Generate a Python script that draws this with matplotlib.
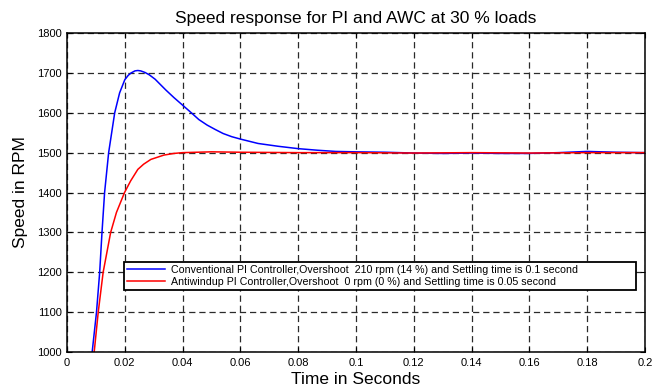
import matplotlib.pyplot as plt
import numpy as np

plt.rcParams['font.family'] = ['Liberation Sans', 'DejaVu Sans']
plt.rcParams['lines.scale_dashes'] = False

# Conventional PI controller (blue)
t_pi = [0.0087, 0.0102, 0.0113, 0.0121, 0.0130, 0.0144, 0.0165, 0.0182, 0.0200,
        0.0212, 0.0222, 0.0235, 0.0245, 0.0255, 0.0270, 0.0285, 0.0305, 0.0320,
        0.0342, 0.0370, 0.0400, 0.0430, 0.0456, 0.0485, 0.0513, 0.0540, 0.0570,
        0.0600, 0.0661, 0.0730, 0.0800, 0.0867, 0.0930, 0.1000, 0.1100, 0.1200,
        0.1300, 0.1400, 0.1500, 0.1600, 0.1700, 0.1800, 0.1900, 0.2000]
speed_pi = [1000, 1100, 1200, 1300, 1400, 1500, 1600, 1650, 1683,
            1694, 1700, 1705, 1706, 1705, 1701, 1695, 1684, 1673,
            1657, 1638, 1619, 1600, 1583, 1569, 1558, 1548, 1540,
            1534, 1523, 1516, 1510, 1506, 1503, 1502, 1501, 1499,
            1498, 1499, 1498, 1498, 1500, 1503, 1501, 1500]

# Antiwindup PI controller (red)
t_awc = [0.0094, 0.0108, 0.0125, 0.0151, 0.0171, 0.0199, 0.0220, 0.0245, 0.0265,
         0.0290, 0.0336, 0.0370, 0.0400, 0.0500, 0.0600, 0.0800, 0.1000, 0.1200,
         0.1400, 0.1600, 0.1800, 0.2000]
speed_awc = [1000, 1100, 1200, 1300, 1350, 1400, 1429, 1458, 1471,
             1483, 1494, 1498, 1500, 1502, 1501, 1500, 1500, 1499,
             1500, 1499, 1500, 1500]

x_ticks = [0, 0.02, 0.04, 0.06, 0.08, 0.1, 0.12, 0.14, 0.16, 0.18, 0.2]
x_tick_labels = ['0', '0.02', '0.04', '0.06', '0.08', '0.1', '0.12', '0.14', '0.16', '0.18', '0.2']
y_ticks = [1000, 1100, 1200, 1300, 1400, 1500, 1600, 1700, 1800]

label_pi = 'Conventional PI Controller,Overshoot  210 rpm (14 %) and Settling time is 0.1 second'
label_awc = 'Antiwindup PI Controller,Overshoot  0 rpm (0 %) and Settling time is 0.05 second'

fig = plt.figure(figsize=(6.52, 3.87), dpi=100)
ax = fig.add_axes([0.1028, 0.0904, 0.8865, 0.8243])

ax.plot(t_pi, speed_pi, color='#0000ff', linewidth=1.1, label=label_pi)
ax.plot(t_awc, speed_awc, color='#ff0000', linewidth=1.1, label=label_awc)

ax.set_xlim(0, 0.2)
ax.set_ylim(1000, 1800)
ax.set_xticks(x_ticks)
ax.set_xticklabels(x_tick_labels)
ax.set_yticks(y_ticks)
ax.tick_params(direction='in', length=3.5, width=0.8, labelsize=8,
               top=True, right=True, pad=4)
ax.grid(True, color='#2a2a2a', linestyle=(0, (4.5, 2.8)), linewidth=0.9)
for s in ax.spines.values():
    s.set_linewidth(1.1)

ax.set_title('Speed response for PI and AWC at 30 % loads', fontsize=12.5, pad=7)
ax.set_xlabel('Time in Seconds', fontsize=12.5, labelpad=3)
ax.set_ylabel('Speed in RPM', fontsize=12.5, labelpad=6)

leg = ax.legend(loc='upper left', bbox_to_anchor=(0.098, 0.19, 0.886, 0.093),
                mode='expand', borderaxespad=0, fontsize=7.7, handlelength=3.6,
                fancybox=False, framealpha=1, edgecolor='black',
                labelspacing=0.18, borderpad=0.3, handletextpad=0.55)
leg.get_frame().set_linewidth(1.3)

fig.savefig('out.png', dpi=100)
